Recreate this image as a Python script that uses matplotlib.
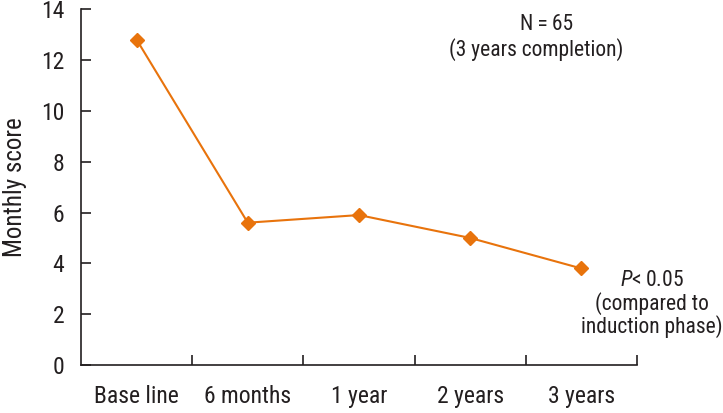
import matplotlib
matplotlib.use("Agg")
import matplotlib.pyplot as plt

categories = ["Base line", "6 months", "1 year", "2 years", "3 years"]
scores = [12.8, 5.6, 5.9, 5.0, 3.8]
yticks = [0, 2, 4, 6, 8, 10, 12, 14]

plt.rcParams["font.family"] = ["Roboto Condensed", "DejaVu Sans"]
plt.rcParams["mathtext.fontset"] = "custom"
plt.rcParams["mathtext.it"] = "Roboto Condensed:italic"
plt.rcParams["mathtext.rm"] = "Roboto Condensed"

color = "#E8730C"
ink = "#231F20"

fig = plt.figure(figsize=(7.23, 4.13), dpi=100)
ax = fig.add_axes([0.112, 0.116, 0.769, 0.862])

x = list(range(len(categories)))
ax.plot(x, scores, color=color, lw=1.5, marker="D", ms=7, mec=color, mfc=color)

ax.set_xlim(-0.5, len(categories) - 0.5)
ax.set_ylim(0, 14)
ax.set_yticks(yticks)
ax.set_yticklabels([str(v) for v in yticks], fontsize=17, color=ink)
ax.set_xticks(x)
ax.set_xticklabels(categories, fontsize=17, color=ink)
ax.set_xticks([i + 0.5 for i in x], minor=True)
ax.tick_params(axis="x", which="major", length=0, pad=14)
ax.tick_params(axis="x", which="minor", direction="in", length=7, width=1.2, color=ink)
ax.tick_params(axis="y", direction="in", length=7, width=1.2, color=ink, pad=12)

for s in ["top", "right"]:
    ax.spines[s].set_visible(False)
for s in ["left", "bottom"]:
    ax.spines[s].set_linewidth(1.2)
    ax.spines[s].set_color(ink)

ax.set_ylabel("Monthly score", fontsize=18, color=ink, labelpad=10)

fs = 15.5
fig.text(547 / 723, 1 - 24 / 413, "N\u2009=\u200965", fontsize=fs, color=ink, ha="center", va="center")
fig.text(536 / 723, 1 - 50 / 413, "(3 years completion)", fontsize=fs, color=ink, ha="center", va="center")
fig.text(652 / 723, 1 - 280 / 413, "$\\it{P}$<\u20090.05", fontsize=fs, color=ink, ha="center", va="center")
fig.text(652 / 723, 1 - 304 / 413, "(compared to", fontsize=fs, color=ink, ha="center", va="center")
fig.text(652 / 723, 1 - 327 / 413, "induction phase)", fontsize=fs, color=ink, ha="center", va="center")

fig.savefig("out.png", dpi=100)
